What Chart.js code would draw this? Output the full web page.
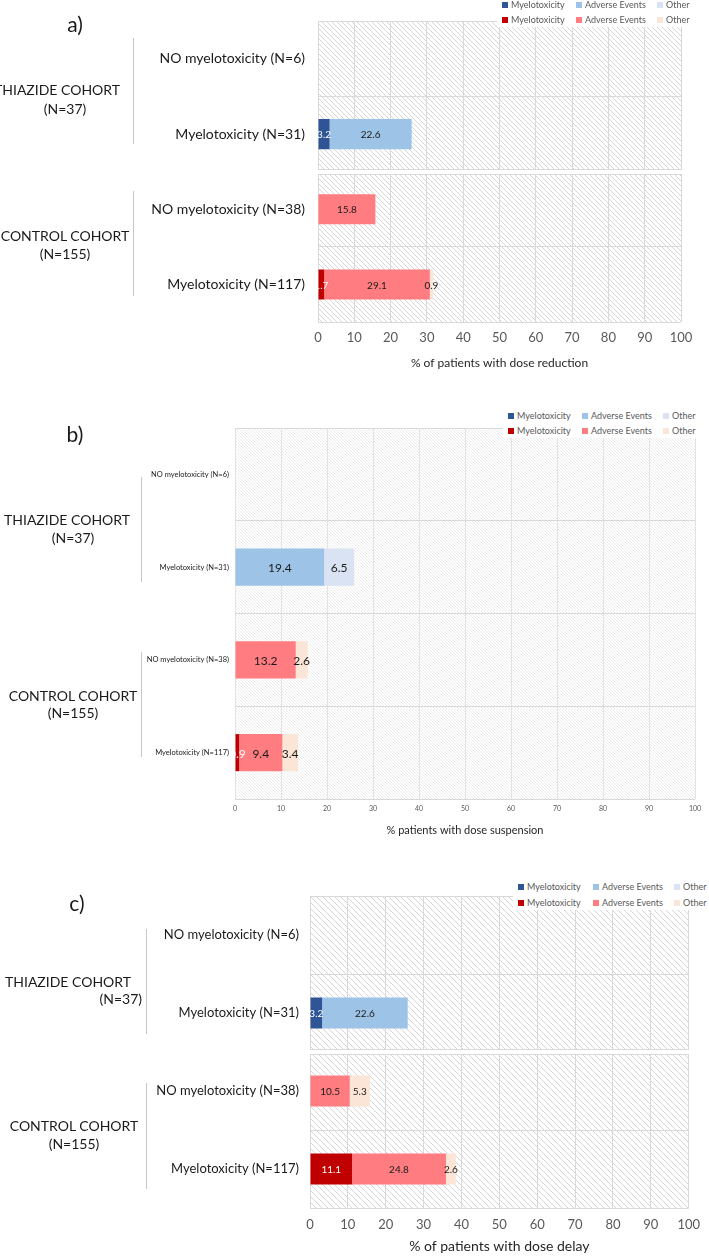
<!DOCTYPE html>
<html>
<head>
<meta charset="utf-8">
<script src="https://cdn.jsdelivr.net/npm/chart.js@4.4.0/dist/chart.umd.min.js"></script>
<style>
  body { margin: 0; background: #fff; width: 709px; height: 1256px; position: relative; overflow: hidden; font-family: Lato, sans-serif; }
  .panel { position: absolute; left: 0; width: 709px; }
  .panel canvas { position: absolute; left: 0; top: 0; }
  .txt { position: absolute; white-space: nowrap; color: #1a1a1a; line-height: 1; }
  .vline { position: absolute; width: 1px; background: #c8c8c8; }
  .legend { position: absolute; background: #fff; font-size: 9px; color: #595959; }
  .legend .item { position: absolute; white-space: nowrap; line-height: 10px; }
  .legend .box { display: inline-block; width: 6px; height: 6px; margin-right: 3px; }
</style>
</head>
<body>
<script>
const rowLabels = ['NO myelotoxicity (N=6)', 'Myelotoxicity (N=31)', 'NO myelotoxicity (N=38)', 'Myelotoxicity (N=117)'];
const seriesNames = ['Myelotoxicity', 'Adverse Events', 'Other'];
const thiazideColors = ['#2f5597', '#9dc3e6', '#dae3f3'];
const controlColors = ['#c00000', '#ff7c80', '#fbe5d6'];
const xTicks = [0, 10, 20, 30, 40, 50, 60, 70, 80, 90, 100];

// a) dose reduction
const reductionThiazideMyelo   = [0, 3.2, null, null];
const reductionThiazideAdverse = [0, 22.6, null, null];
const reductionThiazideOther   = [0, 0, null, null];
const reductionControlMyelo    = [null, null, 0, 1.7];
const reductionControlAdverse  = [null, null, 15.8, 29.1];
const reductionControlOther    = [null, null, 0, 0.9];

// b) dose suspension
const suspensionThiazideMyelo   = [0, 0, null, null];
const suspensionThiazideAdverse = [0, 19.4, null, null];
const suspensionThiazideOther   = [0, 6.5, null, null];
const suspensionControlMyelo    = [null, null, 0, 0.9];
const suspensionControlAdverse  = [null, null, 13.2, 9.4];
const suspensionControlOther    = [null, null, 2.6, 3.4];

// c) dose delay
const delayThiazideMyelo   = [0, 3.2, null, null];
const delayThiazideAdverse = [0, 22.6, null, null];
const delayThiazideOther   = [0, 0, null, null];
const delayControlMyelo    = [null, null, 0, 11.1];
const delayControlAdverse  = [null, null, 10.5, 24.8];
const delayControlOther    = [null, null, 5.3, 2.6];

const FONT = 'Lato, sans-serif';

function buildDatasets(thiazide, control) {
  const sets = [];
  thiazide.forEach((d, i) => sets.push({ label: seriesNames[i], data: d, backgroundColor: thiazideColors[i], stack: 's' }));
  control.forEach((d, i) => sets.push({ label: seriesNames[i], data: d, backgroundColor: controlColors[i], stack: 's' }));
  return sets;
}

function makePattern(size, color) {
  const c = document.createElement('canvas');
  c.width = c.height = size;
  const g = c.getContext('2d');
  g.strokeStyle = color;
  g.lineWidth = 1;
  g.beginPath();
  for (let k = -1; k <= 1; k++) { g.moveTo(0, k * size); g.lineTo(size, size + k * size); }
  g.stroke();
  return c;
}

const hatch = {
  id: 'hatch',
  beforeDraw(chart, args, opts) {
    const { ctx, chartArea: a } = chart;
    ctx.save();
    ctx.fillStyle = ctx.createPattern(makePattern(opts.size, opts.color), 'repeat');
    ctx.fillRect(a.left, a.top, a.right - a.left, a.bottom - a.top);
    ctx.restore();
  }
};

// white gap between the two cohorts
const split = {
  id: 'split',
  beforeDatasetsDraw(chart, args, opts) {
    if (!opts.show) return;
    const { ctx, chartArea: a, scales: { y } } = chart;
    const mid = Math.round((y.getPixelForValue(1) + y.getPixelForValue(2)) / 2);
    ctx.save();
    ctx.fillStyle = '#fff';
    ctx.fillRect(a.left - 1, mid - 2, a.right - a.left + 2, 4);
    ctx.fillStyle = '#d9d9d9';
    ctx.fillRect(a.left, mid - 3, a.right - a.left, 1);
    ctx.fillRect(a.left, mid + 2, a.right - a.left, 1);
    ctx.restore();
  }
};

const valueLabels = {
  id: 'valueLabels',
  afterDatasetsDraw(chart, args, opts) {
    const { ctx } = chart;
    ctx.save();
    ctx.font = opts.size + 'px ' + FONT;
    ctx.textAlign = 'center';
    ctx.textBaseline = 'middle';
    chart.data.datasets.forEach((ds, i) => {
      chart.getDatasetMeta(i).data.forEach((el, j) => {
        const v = ds.data[j];
        if (!v) return;
        ctx.fillStyle = i % 3 === 0 ? '#ffffff' : '#1a1a1a';
        ctx.fillText(v.toFixed(1), (el.x + el.base) / 2, el.y + 1);
      });
    });
    ctx.restore();
  }
};

function addText(parent, text, css) {
  const d = document.createElement('div');
  d.className = 'txt';
  d.textContent = text;
  Object.assign(d.style, css);
  parent.appendChild(d);
  return d;
}

function makePanel(p) {
  const div = document.createElement('div');
  div.className = 'panel';
  div.style.top = p.top + 'px';
  div.style.height = p.height + 'px';
  document.body.appendChild(div);
  const canvas = document.createElement('canvas');
  canvas.width = 709;
  canvas.height = p.height;
  div.appendChild(canvas);

  const chart = new Chart(canvas, {
    type: 'bar',
    data: { labels: rowLabels, datasets: buildDatasets(p.thiazide, p.control) },
    options: {
      indexAxis: 'y',
      responsive: false,
      animation: false,
      devicePixelRatio: 1,
      layout: { padding: { top: p.plotTop, right: 709 - p.plotRight, bottom: 0, left: 0 } },
      datasets: { bar: { categoryPercentage: 1, barPercentage: 0.4 } },
      plugins: {
        legend: { display: false },
        tooltip: { enabled: false },
        hatch: { size: p.hatchSize, color: p.hatchColor },
        split: { show: p.split },
        valueLabels: { size: p.valueSize }
      },
      scales: {
        x: {
          stacked: true,
          min: 0,
          max: 100,
          afterBuildTicks: s => { s.ticks = xTicks.map(v => ({ value: v })); },
          afterFit: s => { s.height = p.height - p.plotBottom; },
          ticks: { color: '#595959', font: { family: FONT, size: p.tickSize }, padding: p.tickPad },
          grid: { color: p.gridColor, drawTicks: false },
          border: { display: false },
          title: {
            display: true, text: p.title, color: '#262626',
            font: { family: FONT, size: p.titleSize },
            padding: { top: 0, bottom: p.titlePad }
          }
        },
        y: {
          stacked: true,
          afterFit: s => { s.width = p.plotLeft; },
          ticks: { color: '#1a1a1a', font: { family: FONT, size: p.labelSize }, padding: p.plotLeft - p.labelRight },
          grid: { offset: true, color: '#d9d9d9', drawTicks: false },
          border: { display: false }
        }
      }
    },
    plugins: [hatch, split, valueLabels]
  });

  // panel tag
  addText(div, p.tag, { left: p.tagX + 'px', top: p.tagY + 'px', fontSize: '21px', transform: 'translate(-50%,-50%)' });

  // cohort group labels and brackets
  p.cohorts.forEach(c => {
    c.lines.forEach(l => addText(div, l.text, {
      left: l.x + 'px', top: (l.y - p.top) + 'px', fontSize: p.cohortSize + 'px',
      transform: l.right ? 'translate(-100%,-50%)' : 'translate(-50%,-50%)'
    }));
    const v = document.createElement('div');
    v.className = 'vline';
    v.style.left = p.vlineX + 'px';
    v.style.top = (c.y0 - p.top) + 'px';
    v.style.height = (c.y1 - c.y0) + 'px';
    div.appendChild(v);
  });

  // legend, two rows of three, built from the chart's datasets
  const lg = document.createElement('div');
  lg.className = 'legend';
  Object.assign(lg.style, { left: p.legend.x0 + 'px', top: (p.legend.y0 - p.top) + 'px', width: p.legend.w + 'px', height: p.legend.h + 'px' });
  div.appendChild(lg);
  chart.data.datasets.forEach((ds, i) => {
    const it = document.createElement('div');
    it.className = 'item';
    it.style.left = (p.legend.cols[i % 3] - p.legend.x0) + 'px';
    it.style.top = (p.legend.rows[Math.floor(i / 3)] - p.legend.y0 - 5) + 'px';
    const b = document.createElement('span');
    b.className = 'box';
    b.style.background = ds.backgroundColor;
    it.appendChild(b);
    it.appendChild(document.createTextNode(ds.label));
    lg.appendChild(it);
  });
}

makePanel({
  tag: 'a)', tagX: 75, tagY: 23, top: 0, height: 380,
  plotTop: 13, plotBottom: 322, plotLeft: 318, plotRight: 681, labelRight: 305,
  labelSize: 14, tickSize: 13, tickPad: 8, titleSize: 12, titlePad: 10, valueSize: 10,
  title: '% of patients with dose reduction',
  hatchSize: 5, hatchColor: '#d6d6d6', gridColor: '#d9d9d9', split: true,
  thiazide: [reductionThiazideMyelo, reductionThiazideAdverse, reductionThiazideOther],
  control: [reductionControlMyelo, reductionControlAdverse, reductionControlOther],
  cohortSize: 14, vlineX: 133,
  cohorts: [
    { lines: [{ text: 'THIAZIDE COHORT', x: 57, y: 90 }, { text: '(N=37)', x: 65, y: 109 }], y0: 38, y1: 144 },
    { lines: [{ text: 'CONTROL COHORT', x: 65, y: 236 }, { text: '(N=155)', x: 65, y: 254 }], y0: 191, y1: 296 }
  ],
  legend: { x0: 497, y0: 0, w: 192, h: 27, cols: [502, 576, 657], rows: [5, 20] }
});

makePanel({
  tag: 'b)', tagX: 75, tagY: 33, top: 400, height: 440,
  plotTop: 28, plotBottom: 399, plotLeft: 235, plotRight: 695, labelRight: 229,
  labelSize: 7.5, tickSize: 7, tickPad: 6, titleSize: 11, titlePad: 3, valueSize: 12,
  title: '% patients with dose suspension',
  hatchSize: 3, hatchColor: '#ececec', gridColor: '#e3e3e3', split: false,
  thiazide: [suspensionThiazideMyelo, suspensionThiazideAdverse, suspensionThiazideOther],
  control: [suspensionControlMyelo, suspensionControlAdverse, suspensionControlOther],
  cohortSize: 14, vlineX: 141,
  cohorts: [
    { lines: [{ text: 'THIAZIDE COHORT', x: 67, y: 520 }, { text: '(N=37)', x: 73, y: 538 }], y0: 477, y1: 582 },
    { lines: [{ text: 'CONTROL COHORT', x: 73, y: 696 }, { text: '(N=155)', x: 73, y: 713 }], y0: 652, y1: 757 }
  ],
  legend: { x0: 503, y0: 408, w: 200, h: 30, cols: [508, 582, 663], rows: [416, 431] }
});

makePanel({
  tag: 'c)', tagX: 77, tagY: 52, top: 850, height: 406,
  plotTop: 46, plotBottom: 358, plotLeft: 310, plotRight: 703, labelRight: 299,
  labelSize: 13, tickSize: 13, tickPad: 9, titleSize: 14, titlePad: 1, valueSize: 10,
  title: '% of patients with dose delay',
  hatchSize: 6, hatchColor: '#d6d6d6', gridColor: '#d9d9d9', split: true,
  thiazide: [delayThiazideMyelo, delayThiazideAdverse, delayThiazideOther],
  control: [delayControlMyelo, delayControlAdverse, delayControlOther],
  cohortSize: 14, vlineX: 146,
  cohorts: [
    { lines: [{ text: 'THIAZIDE COHORT', x: 68, y: 982 }, { text: '(N=37)', x: 142, y: 999, right: true }], y0: 929, y1: 1034 },
    { lines: [{ text: 'CONTROL COHORT', x: 74, y: 1126 }, { text: '(N=155)', x: 74, y: 1144 }], y0: 1083, y1: 1189 }
  ],
  legend: { x0: 513, y0: 879, w: 196, h: 31, cols: [518, 593, 674], rows: [887, 903] }
});
</script>
</body>
</html>
